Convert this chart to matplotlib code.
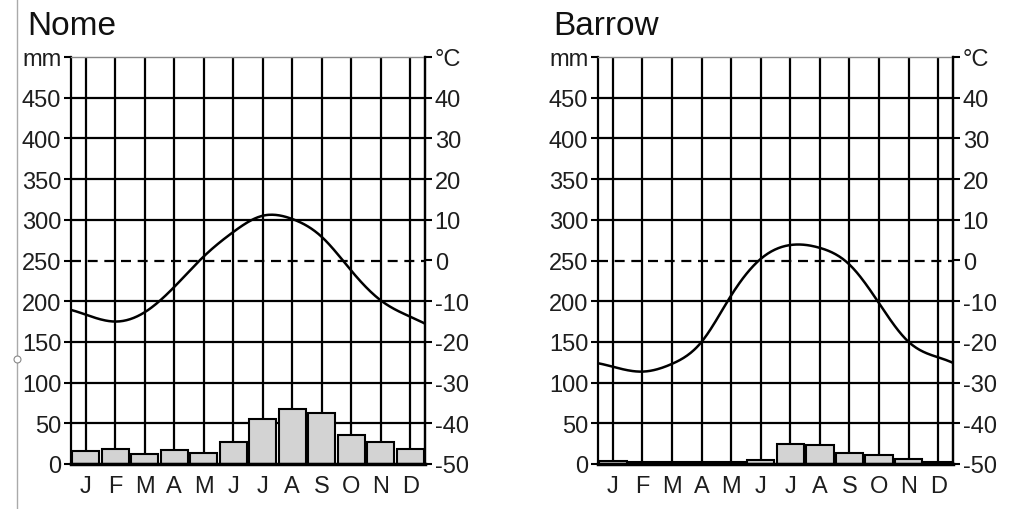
import numpy as np
import matplotlib
matplotlib.use("Agg")
import matplotlib.pyplot as plt
from matplotlib.lines import Line2D

plt.rcParams['font.family'] = ['Liberation Sans', 'DejaVu Sans']

#-- Data
months = ['J', 'F', 'M', 'A', 'M', 'J', 'J', 'A', 'S', 'O', 'N', 'D']
nome_precip = [16, 18, 12, 17, 14, 27, 55, 68, 63, 36, 27, 18]
nome_temp = [-13.3, -15.0, -12.7, -6.5, 1.0, 7.0, 11.0, 10.2, 5.8, -2.5, -9.8, -13.8]
barrow_precip = [3.3, 3, 2, 2, 2, 5, 24.6, 23.3, 13, 11.5, 6, 3]
barrow_temp = [-26.1, -27.3, -25.4, -20.0, -8.6, 0.4, 3.8, 3.1, -1.0, -10.5, -20.0, -23.8]

mm_ticks = list(range(0, 501, 50))
mm_labels = [str(v) for v in mm_ticks[:-1]] + ['mm']
c_ticks = list(range(-50, 51, 10))
c_labels = [str(v) for v in c_ticks[:-1]] + ['°C']

TXT = '#1e1e1e'


def spline_curve(xk, yk, xs):
    #-- natural cubic spline through the monthly means
    xk = np.asarray(xk, float)
    yk = np.asarray(yk, float)
    n = len(xk)
    h = np.diff(xk)
    A = np.zeros((n, n))
    r = np.zeros(n)
    A[0, 0] = A[-1, -1] = 1
    for i in range(1, n - 1):
        A[i, i - 1] = h[i - 1]
        A[i, i] = 2 * (h[i - 1] + h[i])
        A[i, i + 1] = h[i]
        r[i] = 6 * ((yk[i + 1] - yk[i]) / h[i] - (yk[i] - yk[i - 1]) / h[i - 1])
    m = np.linalg.solve(A, r)
    idx = np.clip(np.searchsorted(xk, xs) - 1, 0, n - 2)
    x0 = xk[idx]
    x1 = xk[idx + 1]
    hh = x1 - x0
    a = (x1 - xs) / hh
    b = (xs - x0) / hh
    return a * yk[idx] + b * yk[idx + 1] + ((a ** 3 - a) * m[idx] + (b ** 3 - b) * m[idx + 1]) * hh ** 2 / 6


def climate_diagram(rect, title, title_x, precip, temp):
    ax = fig.add_axes(rect)
    x = np.arange(len(months))

    ax.set_xlim(-0.5, 11.5)
    ax.set_ylim(0, 500)
    ax.set_axisbelow(True)

    #-- grid: verticals at month centres, horizontals every 50 mm
    ax.set_xticks(x, months)
    ax.grid(axis='x', color='black', lw=1.6)
    for v in mm_ticks[1:-1]:
        if v == 250:
            ax.axhline(v, color='black', lw=1.6, ls=(0, (4.5, 3)), zorder=0.6)
        else:
            ax.axhline(v, color='black', lw=1.6, zorder=0.6)

    ax.bar(x, precip, width=0.93, color='#d3d3d3', edgecolor='black',
           lw=1.5, zorder=2)

    ax.set_yticks(mm_ticks, mm_labels)
    ax.tick_params(axis='y', direction='out', length=5, width=1.5, pad=2,
                   labelsize=17, labelcolor=TXT)
    ax.tick_params(axis='x', length=0, pad=8, labelsize=17, labelcolor=TXT)

    for s in ['left', 'right']:
        ax.spines[s].set_color('black')
        ax.spines[s].set_linewidth(1.6)
    ax.spines['top'].set_color('#888888')
    ax.spines['top'].set_linewidth(1)
    ax.spines['bottom'].set_color('black')
    ax.spines['bottom'].set_linewidth(2.5)

    #-- temperature on the right axis
    ax2 = ax.twinx()
    ax2.set_ylim(-50, 50)
    xs = np.linspace(-0.5, 11.5, 300)
    ax2.plot(xs, spline_curve(x, temp, xs), color='black', lw=1.8)
    ax2.set_yticks(c_ticks, c_labels)
    ax2.tick_params(axis='y', direction='out', length=5, width=1.5, pad=2,
                    labelsize=17, labelcolor=TXT)
    for s in ['left', 'top', 'bottom']:
        ax2.spines[s].set_visible(False)
    ax2.spines['right'].set_color('black')
    ax2.spines['right'].set_linewidth(1.6)

    fig.text(title_x, 1 - 35 / 510, title, fontsize=24,
             color='#111111', va='baseline', ha='left')
    return ax


fig = plt.figure(figsize=(10.16, 5.10), dpi=100)

climate_diagram([71 / 1016, 45 / 510, 354 / 1016, 407 / 510], 'Nome',
                27 / 1016, nome_precip, nome_temp)
climate_diagram([598 / 1016, 45 / 510, 355 / 1016, 407 / 510], 'Barrow',
                553 / 1016, barrow_precip, barrow_temp)

#-- thin border line at the left of the source screenshot
fig.add_artist(Line2D([17 / 1016, 17 / 1016], [0, 1], transform=fig.transFigure,
                      color='#aaaaaa', lw=1))
fig.add_artist(Line2D([17 / 1016], [1 - 360 / 510], transform=fig.transFigure,
                      marker='o', ms=5, mfc='white', mec='#888888', mew=0.8))

plt.savefig('out.png', dpi=100)
